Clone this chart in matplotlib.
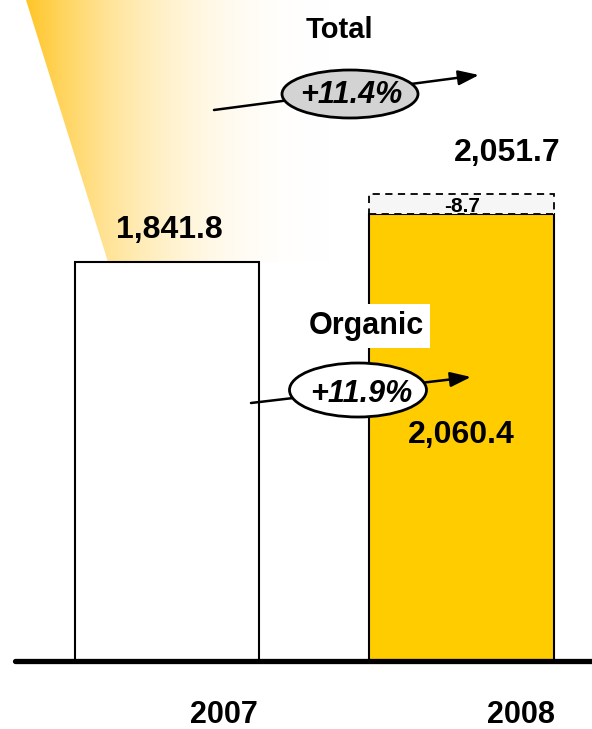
import matplotlib
matplotlib.use("Agg")
import matplotlib.pyplot as plt
import numpy as np
from matplotlib.patches import Ellipse, Polygon, FancyArrowPatch
from matplotlib.colors import to_rgb

# ---------------- data ----------------
years = ["2007", "2008"]
sales_2007 = 1841.8
organic_2008 = 2060.4
fx_effect_2008 = -8.7
total_2008 = 2051.7
total_growth = "+11.4%"
organic_growth = "+11.9%"

# ---------------- figure ----------------
W, H = 592, 729
fig = plt.figure(figsize=(W / 100, H / 100), dpi=100)
fig.patch.set_facecolor("white")
FONT = "Liberation Sans"
plt.rcParams["font.family"] = [FONT, "DejaVu Sans"]

# background layer in pixel coords (gradient beam)
bg = fig.add_axes([0, 0, 1, 1], zorder=0)
bg.set_xlim(0, W)
bg.set_ylim(H, 0)
bg.axis("off")
yellow = np.array(to_rgb("#FFC629"))
xs = np.linspace(0, W, W)
t = np.clip((xs - 27) / (330 - 27), 0, 1)
a = (1 - t) ** 2.3
grad = (1 - a)[:, None] * np.ones(3)[None, :] + a[:, None] * yellow[None, :]
img = np.tile(grad[None, :, :], (10, 1, 1))
im = bg.imshow(img, extent=(0, W, 262, 0), aspect="auto", interpolation="bilinear")
beam = Polygon([(26, 0), (108, 262), (W, 262), (W, 0)], closed=True,
               transform=bg.transData, facecolor="none", edgecolor="none")
bg.add_patch(beam)
im.set_clip_path(beam)

# main data axes
s = 0.2165                       # px per unit
base_px = 660.5
c0 = 167.0
step = 294.5
ax = fig.add_axes([0, 0, 1, 1], zorder=1)
ax.patch.set_alpha(0)
ax.set_xlim(-c0 / step, (W - c0) / step)
ax.set_ylim(-(H - base_px) / s, base_px / s)
ax.axis("off")

xpos = np.arange(len(years))
bw = 184 / step
ax.bar(xpos[0], sales_2007, width=bw, color="white", edgecolor="black", linewidth=1.5, zorder=2)
ax.bar(xpos[1], organic_2008, width=bw, color="#FFCC00", edgecolor="black", linewidth=1.5, zorder=2)
fx_box_h = 20 / s   # visually exaggerated FX segment
ax.bar(xpos[1], fx_box_h, bottom=organic_2008, width=bw * 1.01, color="#F6F6F6",
       edgecolor="black", linewidth=1.3, linestyle=(0, (4, 3)), zorder=2)
ax.axhline(0, xmin=15 / W, xmax=1, color="black", linewidth=3.8,
           solid_capstyle="round", zorder=3)

# overlay in pixel coords
ov = fig.add_axes([0, 0, 1, 1], zorder=2)
ov.patch.set_alpha(0)
ov.set_xlim(0, W)
ov.set_ylim(H, 0)
ov.axis("off")

def fmt(v):
    return f"{v:,.1f}"

bold = dict(fontweight="bold", color="black", ha="center", va="baseline",
            family=[FONT, "DejaVu Sans"])

ov.text(169, 238, fmt(sales_2007), fontsize=23, **bold)
ov.text(507, 161, fmt(total_2008), fontsize=23, **bold)
ov.text(461, 443, fmt(organic_2008), fontsize=23, **bold)
ov.text(462, 212, fmt(fx_effect_2008), fontsize=15, **bold)
ov.text(339, 38, "Total", fontsize=21, **bold)
ov.text(366, 334, "Organic", fontsize=22, zorder=5,
        bbox=dict(boxstyle="square,pad=0.22", fc="white", ec="none"), **bold)
ov.text(224, 723, years[0], fontsize=22, **bold)
ov.text(521, 723, years[1], fontsize=22, **bold)

def growth_arrow(p0, p1, center, w, h, fc, label, lbl_xy):
    arr = FancyArrowPatch(p0, p1, arrowstyle="-|>,head_length=1.25,head_width=0.45",
                          mutation_scale=10, color="black", linewidth=1.8,
                          shrinkA=0, shrinkB=0, zorder=6)
    ov.add_patch(arr)
    ov.add_patch(Ellipse(center, w, h, facecolor=fc, edgecolor="black",
                         linewidth=2, zorder=7))
    ov.text(lbl_xy[0], lbl_xy[1], label, fontsize=22, fontstyle="italic",
            zorder=8, **bold)

growth_arrow((214, 110), (479, 75), (350, 94), 136, 48, "#D3D3D3", total_growth, (351, 103))
growth_arrow((251, 403), (471, 377), (358, 390), 137, 54, "white", organic_growth, (361, 402))

fig.savefig("out.png", dpi=100, facecolor="white")
